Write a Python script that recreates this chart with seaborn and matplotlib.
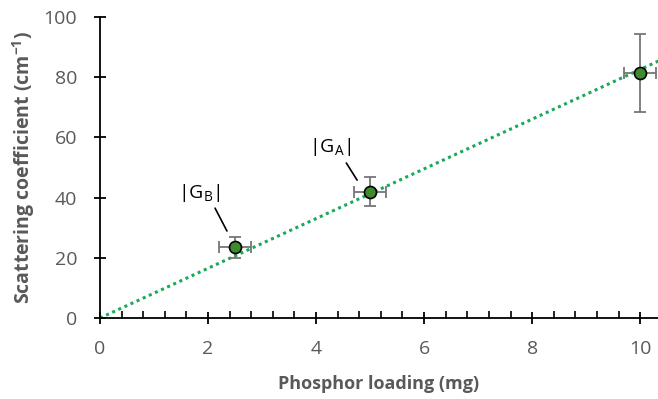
import numpy as np
import pandas as pd
import matplotlib
matplotlib.use("Agg")
import matplotlib.pyplot as plt
import seaborn as sns
from matplotlib.ticker import MultipleLocator

# data
loading = [2.5, 5.0, 10.0]
scattering = [23.5, 42.0, 81.5]
x_err = [0.3, 0.3, 0.3]
y_err = [3.5, 4.7, 13.0]
labels = ["|G$_\\mathregular{B}$|", "|G$_\\mathregular{A}$|", ""]

sns.set_theme(style="white")
plt.rcParams["font.family"] = ["Open Sans", "DejaVu Sans"]
plt.rcParams["mathtext.fontset"] = "custom"
plt.rcParams["mathtext.rm"] = "Open Sans"

df = pd.DataFrame({"loading": loading, "scattering": scattering})

fig = plt.figure(figsize=(6.58, 3.99), dpi=100)
ax = fig.add_axes([100/658, (399-318)/399, 1 - 100/658, (318-17)/399])

# trendline through origin
slope = np.sum(np.array(loading) * np.array(scattering)) / np.sum(np.array(loading) ** 2)
xt = np.array([0, 10.4])
trend = pd.DataFrame({"x": xt, "y": slope * xt})
sns.lineplot(data=trend, x="x", y="y", ax=ax, color="#1aa85a", lw=2.2,
             linestyle=(0, (1, 1.2)), dash_capstyle="butt", zorder=2)

ax.errorbar(loading, scattering, xerr=x_err, yerr=y_err, fmt="none",
            ecolor="#767676", elinewidth=1.3, capsize=4, capthick=1.3, zorder=3)
sns.scatterplot(data=df, x="loading", y="scattering", ax=ax, s=75,
                color="#3f8a2c", edgecolor="black", linewidth=1.2, zorder=4)

# annotations
ax.text(1.83, 41.5, labels[0], fontsize=14, color="black", ha="center", va="center")
ax.plot([2.13, 2.35], [36.5, 28.9], color="black", lw=1.2)
ax.text(4.26, 56.8, labels[1], fontsize=14, color="black", ha="center", va="center")
ax.plot([4.56, 4.76], [51.5, 45.8], color="black", lw=1.2)

ax.set_xlim(0, 10.33)
ax.set_ylim(0, 100)
ax.xaxis.set_major_locator(MultipleLocator(2))
ax.xaxis.set_minor_locator(MultipleLocator(0.4))
ax.yaxis.set_major_locator(MultipleLocator(20))

for s in ["top", "right"]:
    ax.spines[s].set_visible(False)
for s in ["left", "bottom"]:
    ax.spines[s].set_color("black")
    ax.spines[s].set_linewidth(1.3)

ax.tick_params(axis="both", which="major", direction="inout", length=8, width=1.3,
               color="black", labelsize=14, labelcolor="#595959")
ax.tick_params(axis="x", which="major", pad=12, bottom=True)
ax.tick_params(axis="y", which="major", pad=12.5, left=True)
ax.tick_params(axis="x", which="minor", direction="in", length=5, width=1.2,
               color="black", bottom=True)

ax.set_xlabel("Phosphor loading (mg)", fontsize=13, fontweight="bold", color="#595959", labelpad=12)
ax.set_ylabel("Scattering coefficient (cm$^{\\mathregular{-1}}$)", fontsize=14,
              fontweight="bold", color="#595959", labelpad=5)
ax.set_facecolor("white")
fig.patch.set_facecolor("white")

fig.savefig("out.png", dpi=100, facecolor="white")
